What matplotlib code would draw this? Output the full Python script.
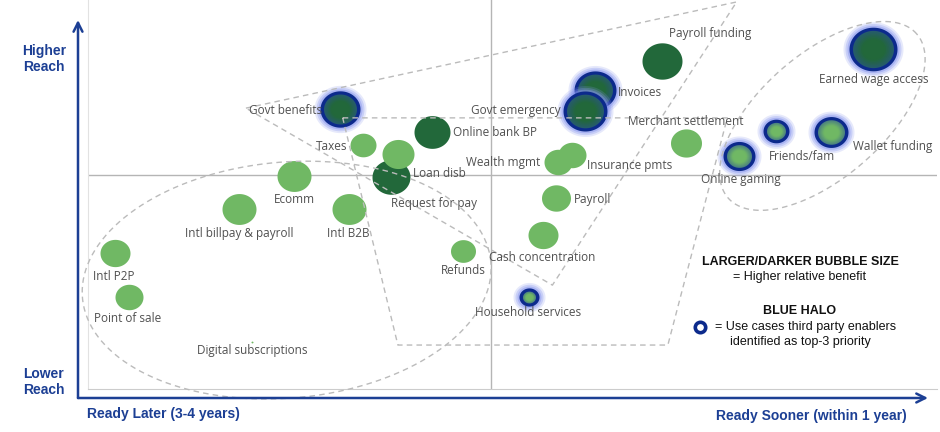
import numpy as np
import matplotlib
matplotlib.use("Agg")
import matplotlib.pyplot as plt
from matplotlib.path import Path
from matplotlib.lines import Line2D
from matplotlib.patches import FancyArrowPatch
from matplotlib.colors import to_rgb

# ---------------- data ----------------
names = ["Intl P2P", "Point of sale", "Digital subscriptions", "Intl billpay & payroll",
         "Ecomm", "Intl B2B", "Taxes", "Loan disb", "Request for pay", "Online bank BP",
         "Refunds", "Cash concentration", "Payroll", "Wealth mgmt", "Insurance pmts",
         "Merchant settlement", "Payroll funding", "Household services", "Govt benefits",
         "Invoices", "Govt emergency", "Online gaming", "Friends/fam", "Wallet funding",
         "Earned wage access"]
readiness = [0.32, 0.48, 1.93, 1.78, 2.43, 3.07, 3.24, 3.57, 3.65, 4.05,
             4.42, 5.36, 5.51, 5.54, 5.70, 7.04, 6.76, 5.19, 2.97,
             5.97, 5.85, 7.67, 8.10, 8.75, 9.25]
reach = [3.50, 2.37, 1.21, 4.63, 5.48, 4.63, 6.27, 5.45, 6.04, 6.61,
         3.55, 3.96, 4.91, 5.84, 6.02, 6.32, 8.43, 2.37, 7.20,
         7.69, 7.15, 5.99, 6.63, 6.61, 8.74]
benefit = [30, 28, 2, 34, 34, 34, 26, 38, 32, 36,
           25, 30, 29, 28, 28, 31, 40, 20, 40,
           42, 44, 32, 26, 34, 48]
high_benefit = [False, False, False, False, False, False, False, True, False, True,
                False, False, False, False, False, False, True, False, True,
                True, True, False, False, False, True]
top3_halo = [False, False, False, False, False, False, False, False, False, False,
             False, False, False, False, False, False, False, True, True,
             True, True, True, True, True, True]

# label offsets (pixels, y up) and alignment
label_pos = {
    "Intl P2P": (-1, -24, "center"), "Point of sale": (-1, -22, "center"),
    "Digital subscriptions": (0, -9, "center"), "Intl billpay & payroll": (0, -25, "center"),
    "Ecomm": (0, -24, "center"), "Intl B2B": (0, -25, "center"),
    "Taxes": (-16, -1, "right"), "Loan disb": (22, 3, "left"),
    "Request for pay": (-7, -49, "left"), "Online bank BP": (21, -1, "left"),
    "Refunds": (0, -20, "center"), "Cash concentration": (-1, -23, "center"),
    "Payroll": (18, -1, "left"), "Wealth mgmt": (-18, -1, "right"),
    "Insurance pmts": (15, -11, "left"), "Merchant settlement": (0, 22, "center"),
    "Payroll funding": (48, 28, "center"), "Household services": (-1, -16, "center"),
    "Govt benefits": (-18, -2, "right"), "Invoices": (23, -3, "left"),
    "Govt emergency": (-24, 0, "right"), "Online gaming": (2, -24, "center"),
    "Friends/fam": (26, -25, "center"), "Wallet funding": (22, -15, "left"),
    "Earned wage access": (0, -30, "center"),
}

# ---------------- style ----------------
LIGHT = "#70b864"
DARK = "#22683a"
RING = "#0c2a8c"
GLOW = "#8593ee"
AXBLUE = "#1c3f94"
LABEL = "#505050"
DASH = "#bbbbbb"

W, H = 940, 432
fig = plt.figure(figsize=(W / 100, H / 100), dpi=100)
ax = fig.add_axes([88 / W, 43 / H, 849 / W, 389 / H])
ax.set_xlim(0, 10)
ax.set_ylim(0, 10)
ax.set_xticks([])
ax.set_yticks([])
for s in ["top", "right"]:
    ax.spines[s].set_visible(False)
ax.spines["left"].set_color("#e2e2e2")
ax.spines["bottom"].set_color("#cccccc")

PXX = 84.9  # px per x unit
PXY = 38.9  # px per y unit

# quadrant lines
ax.axvline(4.75, color="#b5b5b5", lw=1, zorder=1)
ax.axhline(5.50, color="#b5b5b5", lw=1, zorder=1)

# elliptical bubble marker (slightly wider than tall)
th = np.linspace(0, 2 * np.pi, 120)
ell = Path(np.c_[np.cos(th), np.sin(th) / 1.1], closed=True)


def pts(dpx):
    return (dpx * 0.72) ** 2


def mix(c1, c2, t):
    a, b = np.array(to_rgb(c1)), np.array(to_rgb(c2))
    return tuple(a * (1 - t) + b * t)


z = 3
for i, nm in enumerate(names):
    x, y, d = readiness[i], reach[i], benefit[i]
    fill = DARK if high_benefit[i] else LIGHT
    if top3_halo[i]:
        for extra, al in [(12, 0.2), (8, 0.3), (4, 0.45)]:
            ax.scatter([x], [y], s=pts(d + extra), marker=ell, color=GLOW, alpha=al,
                       linewidths=0, zorder=z)
        ax.scatter([x], [y], s=pts(d), marker=ell, color=RING, linewidths=0, zorder=z + 0.1)
        inner = d - 7
        edge = mix(fill, "#2a4f9a", 0.5)
        n = 8
        for k in range(n):
            t = k / (n - 1)
            ax.scatter([x], [y], s=pts(inner * (1 - 0.55 * t)), marker=ell,
                       color=mix(edge, fill, min(1, t * 1.3)), linewidths=0,
                       zorder=z + 0.2 + k * 0.01)
    else:
        ax.scatter([x], [y], s=pts(d), marker=ell, color=fill, linewidths=0, zorder=z)
    z += 1
    dx, dy, ha = label_pos[nm]
    ax.annotate(nm, (x, y), xytext=(dx, dy), textcoords="offset pixels", ha=ha,
                va="center", fontsize=8.5, family="Open Sans", color=LABEL, zorder=100)


# ---------------- dashed grouping shapes ----------------
def ell_pts(cx, cy, a, b, ang):
    t = np.linspace(0, 2 * np.pi, 300)
    r = np.deg2rad(ang)
    xp = a * np.cos(t) * np.cos(r) - b * np.sin(t) * np.sin(r)
    yp = a * np.cos(t) * np.sin(r) + b * np.sin(t) * np.cos(r)
    return cx + xp / PXX, cy + yp / PXY


dkw = dict(color=DASH, lw=1, ls=(0, (4, 3)), zorder=60, clip_on=False)
ex, ey = ell_pts(2.34, 2.80, 205, 118, 5)
ax.plot(ex, ey, **dkw)
ex, ey = ell_pts(8.65, 7.02, 125, 62, 41)
ax.plot(ex, ey, **dkw)
tri_x = [1.86, 7.64, 5.47, 1.86]
tri_y = [7.22, 9.95, 2.67, 7.22]
ax.plot(tri_x, tri_y, **dkw)
quad_x = [3.00, 7.53, 6.83, 3.65, 3.00]
quad_y = [6.97, 6.97, 1.13, 1.13, 6.97]
ax.plot(quad_x, quad_y, **dkw)


# ---------------- axis arrows & titles ----------------
def F(px, py):
    return (px / W, 1 - py / H)


arr = dict(arrowstyle="->", color=AXBLUE, lw=1.8, mutation_scale=16, shrinkA=0, shrinkB=0)
fig.add_artist(FancyArrowPatch(F(78, 398), F(78, 20), transform=fig.transFigure, **arr))
fig.add_artist(FancyArrowPatch(F(78, 398), F(928, 398), transform=fig.transFigure, **arr))

tkw = dict(family="Liberation Sans", fontweight="bold", color=AXBLUE, fontsize=10)
fig.text(*F(44, 59), "Higher\nReach", ha="center", va="center", linespacing=1.15, **tkw)
fig.text(*F(44, 382), "Lower\nReach", ha="center", va="center", linespacing=1.15, **tkw)
fig.text(*F(87, 414), "Ready Later (3-4 years)", ha="left", va="center", **tkw)
fig.text(*F(907, 416), "Ready Sooner (within 1 year)", ha="right", va="center", **tkw)

lkw = dict(family="Liberation Sans", color="#111111", fontsize=9, ha="center", va="center")
fig.text(*F(800, 262), "LARGER/DARKER BUBBLE SIZE", fontweight="bold", **lkw)
fig.text(*F(800, 277), "= Higher relative benefit", **lkw)
fig.text(*F(800, 311), "BLUE HALO", fontweight="bold", **lkw)
fig.text(*F(806, 327), "= Use cases third party enablers", **lkw)
fig.text(*F(800, 342), "identified as top-3 priority", **lkw)
fig.add_artist(Line2D([700 / W], [1 - 327 / H], marker="o", ms=7.5, mfc="white", mec=RING,
                      mew=2.6, transform=fig.transFigure))

fig.savefig("out.png", dpi=100)
